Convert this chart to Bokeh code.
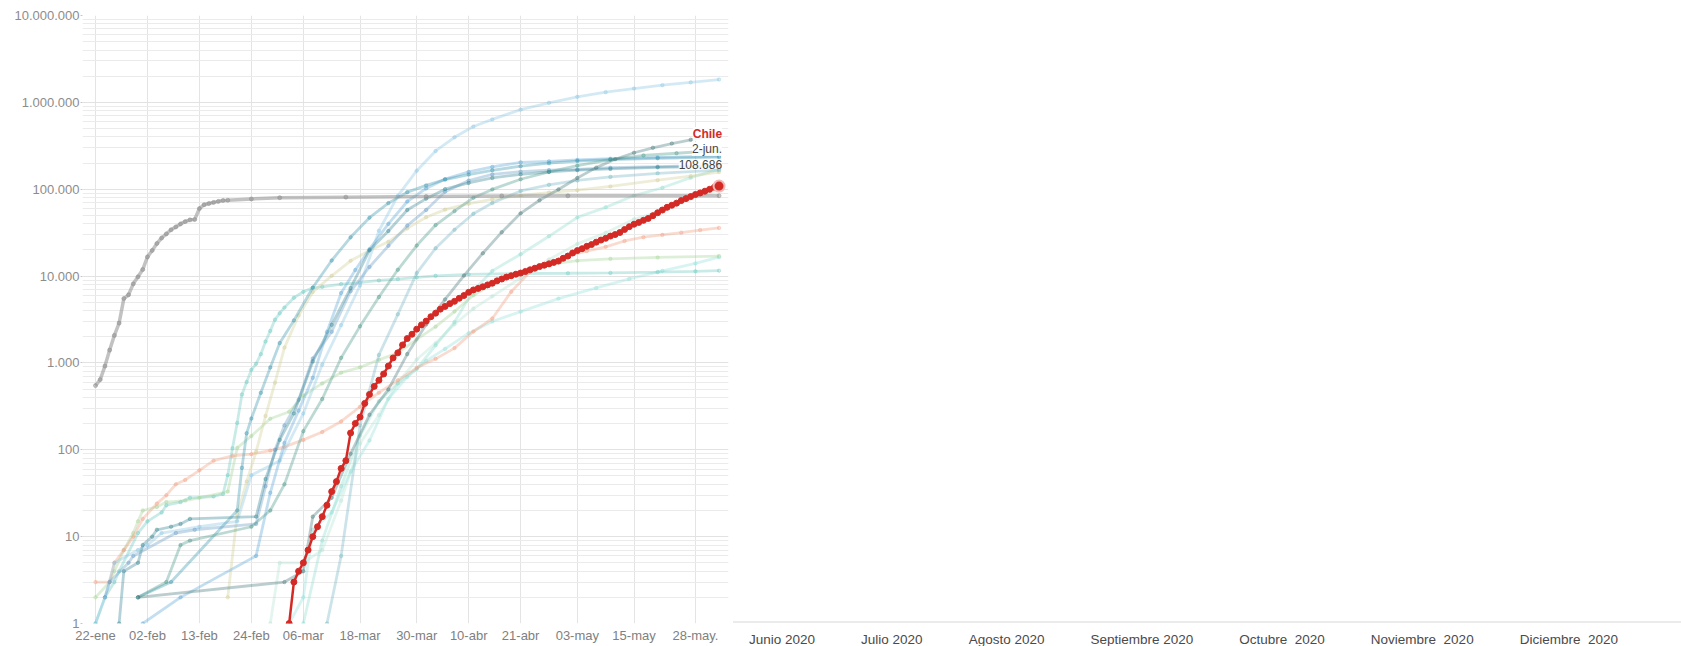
import pandas as pd
from bokeh.plotting import figure
from bokeh.models import Range1d, FixedTicker, Label, Div
from bokeh.layouts import row
from bokeh.embed import file_html
from bokeh.resources import INLINE

# ---------------- data ----------------
CHILE_START = "03-03"
CHILE_V = [1, 3, 4, 5, 7, 10, 13, 17, 23, 33, 43, 61, 75, 156, 201, 238, 342, 434, 537, 632,
           746, 922, 1142, 1306, 1610, 1909, 2139, 2449, 2738,
           3031, 3404, 3737, 4161, 4471, 4815, 5116, 5546, 5972, 6501, 6927, 7213, 7525, 7917,
           8273, 8807, 9252, 9730, 10088, 10507, 10832, 11296, 11812, 12306, 12858, 13331,
           13813, 14365, 14885, 16023,
           17008, 18435, 19663, 20643, 22016, 23048, 24581, 25972, 27219, 28866, 30063, 31721,
           34381, 37040, 39542, 41428, 43781, 46059, 49579, 53617, 57581, 61857, 65393, 69102,
           73997, 77961, 82289, 86943, 90638, 94858, 99688,
           105159, 108686]

CHINA_D = ["01-22", "01-23", "01-24", "01-25", "01-26", "01-27", "01-28", "01-29", "01-30", "01-31",
           "02-01", "02-02", "02-03", "02-04", "02-05", "02-06", "02-07", "02-08", "02-09", "02-10",
           "02-11", "02-12", "02-13", "02-14", "02-15", "02-16", "02-17", "02-18", "02-19", "02-24",
           "03-01", "03-15", "04-01", "04-17", "05-01", "06-02"]
CHINA_V = [548, 643, 920, 1406, 2075, 2877, 5509, 6087, 8141, 9802,
           11891, 16630, 19716, 23707, 27440, 30587, 34110, 36814, 39829, 42354,
           44386, 44759, 59895, 66358, 68413, 70513, 72434, 74211, 74619, 77241,
           79932, 81003, 82361, 83760, 83959, 84154]

US_D = ["01-22", "01-24", "01-26", "01-31", "02-02", "02-05", "02-13", "02-21", "02-24", "03-01",
        "03-06", "03-10", "03-14", "03-18", "03-22", "03-26", "03-30", "04-03", "04-07", "04-11",
        "04-15", "04-21", "04-27", "05-03", "05-09", "05-15", "05-21", "05-27", "06-02"]
US_V = [1, 2, 5, 7, 8, 11, 13, 15, 51, 75, 262, 959, 2727, 7786, 33276, 83836, 163539, 275586,
        396223, 526396, 636350, 825041, 988197, 1158040, 1309550, 1442824, 1577147, 1699933, 1831821]

ITALY_D = ["01-31", "02-07", "02-21", "02-22", "02-23", "02-24", "02-26", "02-28", "03-01", "03-04",
           "03-08", "03-12", "03-16", "03-20", "03-24", "03-28", "04-01", "04-05", "04-10", "04-15",
           "04-21", "04-27", "05-03", "05-10", "05-20", "06-02"]
ITALY_V = [2, 3, 20, 62, 155, 229, 453, 888, 1694, 3089, 7375, 15113, 27980, 47021, 69176, 92472,
           110574, 128948, 147577, 165155, 183957, 199414, 210717, 219070, 227364, 233515]

SPAIN_D = ["02-01", "02-09", "02-25", "02-28", "03-02", "03-05", "03-08", "03-11", "03-14", "03-17",
           "03-20", "03-24", "03-28", "04-01", "04-05", "04-10", "04-15", "04-21", "04-27", "05-03",
           "05-10", "05-20", "06-02"]
SPAIN_V = [1, 2, 6, 32, 120, 282, 673, 2277, 6391, 11748, 20410, 39885, 72248, 102136, 130759,
           158273, 180659, 204178, 209465, 217466, 224350, 232555, 240326]

UK_D = ["01-31", "02-06", "02-09", "02-11", "02-24", "02-28", "03-02", "03-06", "03-10", "03-14",
        "03-18", "03-22", "03-26", "03-30", "04-03", "04-07", "04-11", "04-15", "04-21", "04-27",
        "05-03", "05-10", "05-17", "05-24", "06-02"]
UK_V = [2, 3, 8, 9, 13, 20, 40, 164, 384, 1144, 2642, 5741, 11812, 22453, 38689, 55949, 79874,
        99483, 130172, 158348, 186599, 219183, 244995, 259559, 279856]

GERMANY_D = ["01-27", "01-28", "01-31", "02-01", "02-03", "02-04", "02-07", "02-09", "02-11", "02-25",
             "02-27", "03-01", "03-04", "03-08", "03-12", "03-16", "03-20", "03-24", "03-28", "04-01",
             "04-05", "04-10", "04-15", "04-21", "04-27", "05-03", "05-10", "05-20", "06-02"]
GERMANY_V = [1, 4, 5, 8, 10, 12, 13, 14, 16, 17, 46, 130, 262, 1040, 2745, 7272, 19848, 32986,
             57695, 77872, 100123, 118181, 134753, 148291, 158758, 165664, 171324, 178473, 183594]

FRANCE_D = ["01-24", "01-25", "01-29", "01-30", "02-08", "02-12", "02-25", "02-27", "02-29", "03-02",
            "03-05", "03-08", "03-12", "03-16", "03-20", "03-24", "03-28", "04-01", "04-05", "04-10",
            "04-15", "04-21", "04-27", "05-03", "05-10", "05-20", "06-02"]
FRANCE_V = [2, 3, 5, 6, 11, 12, 14, 38, 100, 191, 377, 1126, 2284, 6683, 12726, 22304, 38105,
            57749, 93790, 125931, 147969, 159297, 165911, 168925, 176782, 181700, 189220]

RUSSIA_D = ["01-31", "03-02", "03-06", "03-08", "03-12", "03-16", "03-20", "03-24", "03-28", "04-01",
            "04-05", "04-09", "04-13", "04-17", "04-21", "04-25", "04-29", "05-03", "05-07", "05-11",
            "05-15", "05-19", "05-23", "05-27", "05-31", "06-02"]
RUSSIA_V = [2, 3, 4, 17, 28, 90, 253, 495, 1264, 2777, 5389, 10131, 18328, 32008, 52763, 74588,
            99399, 134686, 177160, 221344, 262843, 299941, 335882, 370680, 405843, 423186]

IRAN_D = ["02-19", "02-21", "02-23", "02-25", "02-27", "02-29", "03-02", "03-05", "03-08", "03-12",
          "03-16", "03-20", "03-24", "03-28", "04-01", "04-05", "04-10", "04-15", "04-21", "04-27",
          "05-03", "05-10", "05-20", "05-27", "06-02"]
IRAN_V = [2, 18, 43, 95, 245, 593, 1501, 3513, 6566, 10075, 14991, 19644, 24811, 35408, 47593,
          58226, 68192, 76389, 84802, 91472, 97424, 107603, 126949, 141591, 157562]

TURKEY_D = ["03-11", "03-14", "03-18", "03-22", "03-26", "03-30", "04-03", "04-07", "04-11", "04-15",
            "04-21", "04-27", "05-03", "05-10", "05-20", "06-02"]
TURKEY_V = [1, 6, 191, 1236, 3629, 10827, 20921, 34109, 52167, 69392, 95591, 112261, 126045,
            138657, 152587, 165555]

KOREA_D = ["01-22", "01-24", "01-26", "01-27", "01-31", "02-02", "02-05", "02-06", "02-09", "02-11",
           "02-16", "02-18", "02-19", "02-20", "02-21", "02-22", "02-23", "02-24", "02-25", "02-26",
           "02-27", "02-28", "02-29", "03-01", "03-02", "03-04", "03-06", "03-08", "03-10", "03-14",
           "03-18", "03-22", "03-26", "03-30", "04-03", "04-10", "04-20", "05-01", "05-10", "05-20",
           "05-28", "06-02"]
KOREA_V = [1, 2, 3, 4, 11, 15, 19, 23, 25, 28, 29, 31, 51, 104, 204, 433, 602, 833, 977, 1261,
           1766, 2337, 3150, 3736, 4335, 5621, 6593, 7314, 7513, 8086, 8413, 8897, 9241, 9661,
           10062, 10450, 10674, 10774, 10874, 11110, 11344, 11541]

JAPAN_D = ["01-22", "01-25", "01-26", "01-28", "01-30", "01-31", "02-01", "02-04", "02-06", "02-10",
           "02-13", "02-19", "02-21", "02-24", "02-28", "03-03", "03-06", "03-10", "03-14", "03-18",
           "03-22", "03-26", "03-30", "04-03", "04-07", "04-11", "04-15", "04-21", "04-27", "05-03",
           "05-10", "05-20", "06-02"]
JAPAN_V = [2, 3, 4, 7, 11, 15, 20, 22, 25, 26, 28, 33, 105, 144, 228, 274, 420, 581, 773, 889,
           1086, 1307, 1866, 2617, 3906, 6005, 8100, 11135, 13614, 15057, 15798, 16385, 16986]

SINGAPORE_D = ["01-22", "01-25", "01-26", "01-28", "01-30", "02-01", "02-04", "02-06", "02-08", "02-10",
               "02-13", "02-16", "02-20", "02-24", "02-28", "03-02", "03-06", "03-10", "03-14", "03-18",
               "03-22", "03-26", "03-30", "04-03", "04-07", "04-11", "04-15", "04-19", "04-23", "04-27",
               "05-01", "05-05", "05-09", "05-13", "05-17", "05-21", "05-25", "05-29", "06-02"]
SINGAPORE_V = [3, 3, 5, 7, 10, 16, 24, 30, 40, 45, 58, 75, 85, 89, 98, 108, 130, 160, 212, 313,
               455, 631, 879, 1114, 1481, 2299, 3252, 6588, 11178, 14423, 17101, 19410, 21707,
               25346, 28038, 29812, 31616, 33860, 35836]

ARGENTINA_D = ["03-03", "03-06", "03-08", "03-12", "03-16", "03-20", "03-24", "03-28", "04-01", "04-05",
               "04-10", "04-15", "04-21", "04-29", "05-07", "05-14", "05-21", "05-28", "06-02"]
ARGENTINA_V = [1, 2, 12, 19, 56, 128, 387, 690, 1054, 1451, 2200, 3000, 3900, 5500, 7300, 9300,
               11500, 14000, 16500]

PERU_D = ["03-06", "03-10", "03-14", "03-18", "03-22", "03-26", "03-30", "04-03", "04-07", "04-11",
          "04-15", "04-21", "04-27", "05-03", "05-09", "05-15", "05-21", "05-27", "06-02"]
PERU_V = [1, 9, 38, 145, 363, 580, 852, 1595, 2954, 6848, 11475, 17837, 28699, 47372, 61847,
          84495, 104020, 135905, 170039]

MEXICO_D = ["02-28", "03-01", "03-06", "03-10", "03-14", "03-18", "03-22", "03-26", "03-30", "04-03",
            "04-07", "04-11", "04-15", "04-21", "04-27", "05-03", "05-09", "05-15", "05-21", "05-27",
            "06-02"]
MEXICO_V = [1, 5, 5, 7, 26, 118, 251, 585, 1094, 1688, 2785, 4219, 5847, 9501, 15529, 23471,
            31522, 45032, 56594, 78023, 97326]

SERIES = [
    ("Mexico", MEXICO_D, MEXICO_V),
    ("Peru", PERU_D, PERU_V),
    ("Argentina", ARGENTINA_D, ARGENTINA_V),
    ("Korea", KOREA_D, KOREA_V),
    ("Japan", JAPAN_D, JAPAN_V),
    ("Singapore", SINGAPORE_D, SINGAPORE_V),
    ("Iran", IRAN_D, IRAN_V),
    ("Turkey", TURKEY_D, TURKEY_V),
    ("US", US_D, US_V),
    ("France", FRANCE_D, FRANCE_V),
    ("Spain", SPAIN_D, SPAIN_V),
    ("Italy", ITALY_D, ITALY_V),
    ("UK", UK_D, UK_V),
    ("Germany", GERMANY_D, GERMANY_V),
    ("Russia", RUSSIA_D, RUSSIA_V),
    ("China", CHINA_D, CHINA_V),
]

TICK_DATES = ["01-22", "02-02", "02-13", "02-24", "03-06", "03-18", "03-30", "04-10", "04-21",
              "05-03", "05-15", "05-28"]
TICK_LABELS = ["22-ene", "02-feb", "13-feb", "24-feb", "06-mar", "18-mar", "30-mar", "10-abr",
               "21-abr", "03-may", "15-may", "28-may."]
Y_TICKS = [1, 10, 100, 1000, 10000, 100000, 1000000, 10000000]
MONTHS = ["Junio 2020", "Julio 2020", "Agosto 2020", "Septiembre 2020", "Octubre  2020",
          "Noviembre  2020", "Diciembre  2020"]
LAST_DATE_LABEL = "2-jun."

# ---------------- styles ----------------
COLORS = {
    "China": "#8f8f8f", "US": "#8cc8e6", "Italy": "#3f98b0", "Spain": "#5ea9d8",
    "UK": "#4f9a8c", "Germany": "#3a8a96", "France": "#6b9dc8", "Russia": "#4d7c7e",
    "Iran": "#d3cf98", "Turkey": "#78b9c4", "Korea": "#6fcac2", "Japan": "#a9d69a",
    "Singapore": "#f3a083", "Argentina": "#96e3dc", "Peru": "#92ddd0", "Mexico": "#b9e6d6",
}
CHILE_COLOR = "#d42a26"
FONT = "Liberation Sans"


def to_dt(lst):
    return pd.to_datetime(["2020-" + d for d in lst])


def ms(s):
    return pd.Timestamp(s).value / 1e6


p = figure(width=733, height=646, x_axis_type="datetime", y_axis_type="log",
           x_range=Range1d(ms("2020-01-19 06:00"), ms("2020-06-04")),
           y_range=Range1d(1, 1e7),
           output_backend="svg", toolbar_location=None,
           min_border_left=82, min_border_right=5, min_border_top=15, min_border_bottom=23)
p.outline_line_color = None
p.background_fill_color = "white"
p.border_fill_color = "white"

# axes
p.xaxis.ticker = FixedTicker(ticks=[ms("2020-" + d) for d in TICK_DATES])
p.xaxis.major_label_overrides = {ms("2020-" + d): lab for d, lab in zip(TICK_DATES, TICK_LABELS)}
p.yaxis.ticker = FixedTicker(ticks=Y_TICKS,
                             minor_ticks=[m * 10 ** k for k in range(7) for m in range(2, 10)])
p.yaxis.major_label_overrides = {t: f"{t:,}".replace(",", ".") for t in Y_TICKS}

for ax in (p.xaxis[0], p.yaxis[0]):
    ax.axis_line_color = None
    ax.major_tick_in = 0
    ax.minor_tick_in = 0
    ax.minor_tick_out = 0
    ax.major_label_text_font = FONT
    ax.major_label_text_font_size = "13px"
p.xaxis.major_tick_out = 0
p.xaxis.major_label_standoff = 4
p.xaxis.major_label_text_color = "#808080"
p.yaxis.major_tick_out = 2
p.yaxis.major_tick_line_color = "#c8c8c8"
p.yaxis.major_label_standoff = 1
p.yaxis.major_label_text_color = "#8c8c8c"

p.xgrid.grid_line_color = "#e4e4e4"
p.ygrid.grid_line_color = "#e2e2e2"
p.ygrid.minor_grid_line_color = "#ebebeb"

# background series
for name, d, v in SERIES:
    c = COLORS[name]
    x = to_dt(d)
    if name == "China":
        p.line(x, v, line_color=c, line_width=3.5, line_alpha=0.55)
        p.scatter(x, v, size=4, color=c, alpha=0.5)
    else:
        p.line(x, v, line_color=c, line_width=2.8, line_alpha=0.38)
        p.scatter(x, v, size=3.5, color=c, alpha=0.35)

# Chile
chile_x = pd.date_range("2020-" + CHILE_START, periods=len(CHILE_V), freq="D")
p.line(chile_x, CHILE_V, line_color=CHILE_COLOR, line_width=2.5)
p.scatter(chile_x, CHILE_V, size=6, color=CHILE_COLOR)
p.scatter([chile_x[-1]], [CHILE_V[-1]], size=11, fill_color=CHILE_COLOR,
          line_color="#f1b9b7", line_width=2)

lx = chile_x[-1].value / 1e6
ly = CHILE_V[-1]
for txt, off, color, style in [("Chile", 52, CHILE_COLOR, "bold"),
                               (LAST_DATE_LABEL, 37, "#444444", "normal"),
                               (f"{ly:,}".replace(",", "."), 22, "#444444", "normal")]:
    p.add_layout(Label(x=lx, y=ly, x_offset=3, y_offset=off, text=txt,
                       text_align="right", text_baseline="middle",
                       text_font=FONT, text_font_size="12px", text_font_style=style,
                       text_color=color, background_fill_color="white",
                       background_fill_alpha=0.85))

# right-hand timeline strip
spans = "".join(f"<span>{m}</span>" for m in MONTHS)
html = (
    '<div style="position:relative;width:948px;height:646px;overflow:hidden;">'
    '<div style="position:absolute;left:0;right:0;top:621px;border-top:2px solid #ebebeb;"></div>'
    '<div style="position:absolute;left:16px;top:633px;display:flex;gap:46px;'
    "font-family:'Liberation Sans',Arial,sans-serif;font-size:13.5px;font-weight:400;"
    f'line-height:13px;color:#4a4a4a;white-space:pre;">{spans}</div></div>'
)
div = Div(text=html, width=948, height=646, margin=(0, 0, 0, 0))

layout = row(p, div)
open("out.html", "w").write(file_html(layout, INLINE))
